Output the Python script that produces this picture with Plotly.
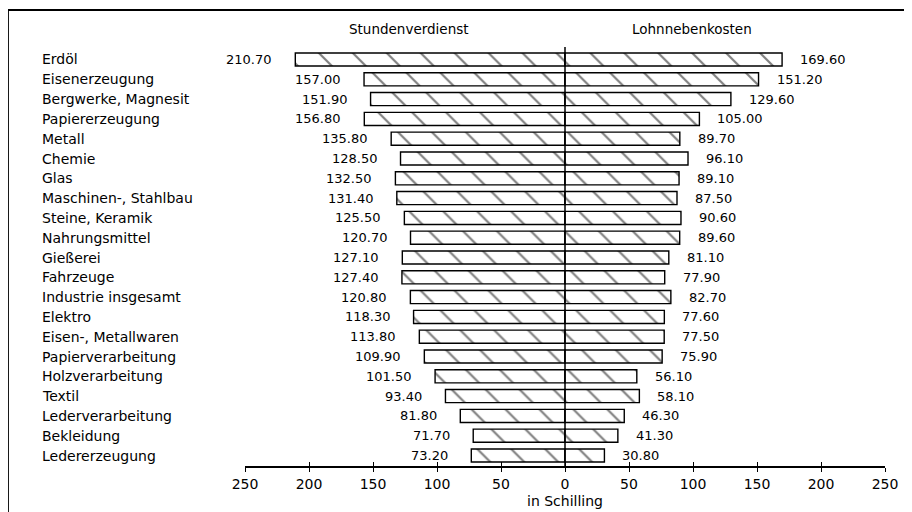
import plotly.graph_objects as go

categories = ["Erdöl", "Eisenerzeugung", "Bergwerke, Magnesit", "Papiererzeugung", "Metall",
              "Chemie", "Glas", "Maschinen-, Stahlbau", "Steine, Keramik", "Nahrungsmittel",
              "Gießerei", "Fahrzeuge", "Industrie insgesamt", "Elektro", "Eisen-, Metallwaren",
              "Papierverarbeitung", "Holzverarbeitung", "Textil", "Lederverarbeitung",
              "Bekleidung", "Ledererzeugung"]
stundenverdienst = [210.70, 157.00, 151.90, 156.80, 135.80, 128.50, 132.50, 131.40, 125.50, 120.70,
                    127.10, 127.40, 120.80, 118.30, 113.80, 109.90, 101.50, 93.40, 81.80, 71.70, 73.20]
lohnnebenkosten = [169.60, 151.20, 129.60, 105.00, 89.70, 96.10, 89.10, 87.50, 90.60, 89.60,
                   81.10, 77.90, 82.70, 77.60, 77.50, 75.90, 56.10, 58.10, 46.30, 41.30, 30.80]
tick_vals = [-250, -200, -150, -100, -50, 0, 50, 100, 150, 200, 250]
tick_text = ["250", "200", "150", "100", "50", "0", "50", "100", "150", "200", "250"]

FONT = "DejaVu Sans"
idx = list(range(len(categories)))

pattern = dict(shape="\\", fgcolor="black", bgcolor="white", size=24, solidity=0.09)

fig = go.Figure()
fig.add_trace(go.Bar(
    y=idx, x=[-v for v in stundenverdienst], orientation="h", width=0.66,
    marker=dict(color="white", line=dict(color="black", width=1.4), pattern=pattern),
    hoverinfo="skip", showlegend=False))
fig.add_trace(go.Bar(
    y=idx, x=lohnnebenkosten, orientation="h", width=0.66,
    marker=dict(color="white", line=dict(color="black", width=1.4), pattern=pattern),
    hoverinfo="skip", showlegend=False))
# invisible trace to activate secondary x axis (inside ticks)
fig.add_trace(go.Scatter(x=[tick_vals[0]], y=[0], xaxis="x2", mode="markers",
                         marker=dict(opacity=0), hoverinfo="skip", showlegend=False))

annotations = []
for i, (c, a, b) in enumerate(zip(categories, stundenverdienst, lohnnebenkosten)):
    annotations.append(dict(x=-0.3203, xref="paper", y=i, yref="y", text=c, xanchor="left",
                            showarrow=False, font=dict(family=FONT, size=14, color="black")))
    annotations.append(dict(x=-a, xref="x", y=i, yref="y", text=f"{a:.2f}", xanchor="right",
                            xshift=-21, showarrow=False, font=dict(family=FONT, size=13, color="black")))
    annotations.append(dict(x=b, xref="x", y=i, yref="y", text=f"{b:.2f}", xanchor="left",
                            xshift=16, showarrow=False, font=dict(family=FONT, size=13, color="black")))

annotations.append(dict(x=-121.5, xref="x", y=1.043, yref="paper", yanchor="middle",
                        text="Stundenverdienst",
                        showarrow=False, font=dict(family=FONT, size=13.5, color="black")))
annotations.append(dict(x=99, xref="x", y=1.043, yref="paper", yanchor="middle",
                        text="Lohnnebenkosten",
                        showarrow=False, font=dict(family=FONT, size=13.5, color="black")))
annotations.append(dict(x=0, xref="x", y=-0.084, yref="paper", yanchor="middle",
                        text="in Schilling",
                        showarrow=False, font=dict(family=FONT, size=14, color="black")))

shapes = [
    dict(type="line", xref="x", yref="paper", x0=0, x1=0, y0=0, y1=1,
         line=dict(color="black", width=1.5), layer="above"),
    dict(type="line", xref="paper", yref="paper", x0=-0.3703, x1=1.1, y0=1.0883, y1=1.0883,
         line=dict(color="black", width=2)),
    dict(type="line", xref="paper", yref="paper", x0=-0.3703, x1=-0.3703, y0=1.0883, y1=-0.15,
         line=dict(color="black", width=1.8)),
]

fig.update_layout(
    width=912, height=512,
    margin=dict(l=237, r=35, t=39, b=54),
    paper_bgcolor="white", plot_bgcolor="white",
    barmode="overlay",
    xaxis=dict(range=[-250, 250], tickvals=tick_vals, ticktext=tick_text,
               ticks="outside", ticklen=4, tickwidth=1.3, tickcolor="black",
               showline=True, linecolor="black", linewidth=1.5,
               showgrid=False, zeroline=False,
               tickfont=dict(family=FONT, size=14, color="black")),
    xaxis2=dict(range=[-250, 250], tickvals=tick_vals, showticklabels=False,
                ticks="inside", ticklen=4, tickwidth=1.3, tickcolor="black",
                overlaying="x", side="bottom", anchor="y",
                showline=False, showgrid=False, zeroline=False),
    yaxis=dict(range=[20.53, -0.631], visible=False, showgrid=False, zeroline=False),
    annotations=annotations,
    shapes=shapes,
)

fig.write_html("out.html")
